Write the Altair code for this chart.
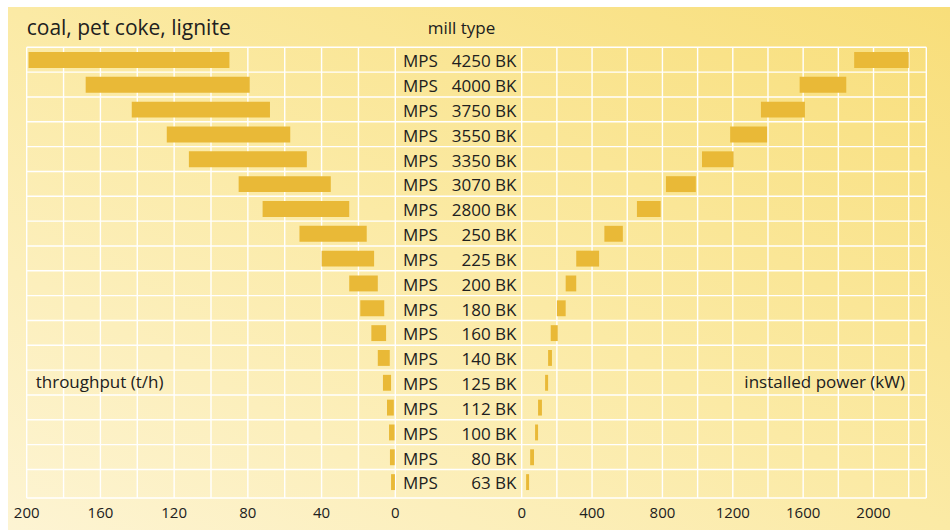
import altair as alt
import pandas as pd

# MPS ... BK vertical roller mills: throughput and installed drive power ranges
mill_sizes = ["4250", "4000", "3750", "3550", "3350", "3070", "2800",
              "250", "225", "200", "180", "160", "140", "125", "112", "100", "80", "63"]
throughput_low = [90, 79, 68, 57, 48, 35, 25, 15.5, 11.5, 9.5, 6, 5, 3, 2.3, 0.8, 0.4, 0.3, 0.2]
throughput_high = [199, 168, 143, 124, 112, 85, 72, 52, 40, 25, 19, 13, 9.5, 6.7, 4.5, 3.4, 2.9, 2.3]
power_low = [1890, 1580, 1360, 1185, 1025, 820, 655, 470, 310, 250, 200, 165, 150, 133, 93, 76, 48, 25]
power_high = [2200, 1845, 1610, 1395, 1205, 990, 790, 575, 440, 310, 250, 205, 172, 150, 115, 93, 70, 42]

throughput_ticks = [200, 160, 120, 80, 40, 0]
throughput_grid = [0, 20, 40, 60, 80, 100, 120, 140, 160, 180, 200]
power_ticks = [0, 400, 800, 1200, 1600, 2000]
power_grid = [0, 200, 400, 600, 800, 1000, 1200, 1400, 1600, 1800, 2000, 2200, 2300]

# ---- layout -------------------------------------------------------------
W, H = 942, 523
FONT = "Open Sans"
INK = "#202020"
BAR = "#E9B937"
GRID = "#FFFFFF"
ROWS_END = 18.15

left_scale = alt.Scale(domain=[0, 200], range=[387.3, 18.7], nice=False, zero=False)
right_scale = alt.Scale(domain=[0, 2300], range=[513.7, 918.3], nice=False, zero=False)
row_scale = alt.Scale(domain=[0, ROWS_END], range=[40.3, 491], nice=False, zero=False)

mills = pd.DataFrame({
    "row": list(range(len(mill_sizes))),
    "size": mill_sizes,
    "t_lo": throughput_low,
    "t_hi": throughput_high,
    "p_lo": power_low,
    "p_hi": power_high,
})
mills["label"] = mills["size"] + " BK"

row_edges = pd.DataFrame({"edge": list(range(len(mill_sizes))) + [ROWS_END]})

# background panel with a soft diagonal gradient
bg = alt.Chart(pd.DataFrame({"k": [0]})).mark_rect(
    color=alt.LinearGradient(
        gradient="linear",
        stops=[
            alt.GradientStop(offset=0, color="#FDF4D3"),
            alt.GradientStop(offset=0.5, color="#FBEAA5"),
            alt.GradientStop(offset=1, color="#F8DE7A"),
        ],
        x1=0, y1=1, x2=1, y2=0,
    )
).encode(x=alt.value(0), x2=alt.value(W), y=alt.value(0), y2=alt.value(H))

# horizontal row separators spanning both panels and the label column
h_grid = alt.Chart(row_edges).mark_rule(color=GRID, strokeWidth=1.4).encode(
    y=alt.Y("edge:Q", scale=row_scale, axis=None),
    x=alt.value(18.7),
    x2=alt.value(918.3),
)

v_grid_left = alt.Chart(pd.DataFrame({"v": throughput_grid})).mark_rule(
    color=GRID, strokeWidth=1.4
).encode(
    x=alt.X("v:Q", scale=left_scale, axis=None),
    y=alt.Y(datum=0, scale=row_scale, axis=None),
    y2=alt.Y2(datum=ROWS_END),
)

v_grid_right = alt.Chart(pd.DataFrame({"v": power_grid})).mark_rule(
    color=GRID, strokeWidth=1.4
).encode(
    x=alt.X("v:Q", scale=right_scale, axis=None),
    y=alt.Y(datum=0, scale=row_scale, axis=None),
    y2=alt.Y2(datum=ROWS_END),
)

base = alt.Chart(mills).transform_calculate(
    top="datum.row + 0.19", bottom="datum.row + 0.83", mid="datum.row + 0.5"
)

bars_left = base.mark_rect(color=BAR).encode(
    x=alt.X("t_lo:Q", scale=left_scale, axis=None),
    x2="t_hi:Q",
    y=alt.Y("top:Q", scale=row_scale, axis=None),
    y2="bottom:Q",
)

bars_right = base.mark_rect(color=BAR).encode(
    x=alt.X("p_lo:Q", scale=right_scale, axis=None),
    x2="p_hi:Q",
    y=alt.Y("top:Q", scale=row_scale, axis=None),
    y2="bottom:Q",
)

mps_text = base.mark_text(
    align="left", baseline="middle", font=FONT, fontSize=17, color=INK, dy=2.5
).encode(
    x=alt.value(395),
    y=alt.Y("mid:Q", scale=row_scale, axis=None),
    text=alt.value("MPS"),
)

size_text = base.mark_text(
    align="right", baseline="middle", font=FONT, fontSize=17, color=INK, dy=2.5
).encode(
    x=alt.value(508.5),
    y=alt.Y("mid:Q", scale=row_scale, axis=None),
    text="label:N",
)

left_tick_labels = alt.Chart(pd.DataFrame({"v": throughput_ticks})).mark_text(
    align="center", baseline="alphabetic", font=FONT, fontSize=15, color=INK
).encode(
    x=alt.X("v:Q", scale=left_scale, axis=None),
    y=alt.value(511),
    text=alt.Text("v:Q", format="d"),
)

right_tick_labels = alt.Chart(pd.DataFrame({"v": power_ticks})).mark_text(
    align="center", baseline="alphabetic", font=FONT, fontSize=15, color=INK
).encode(
    x=alt.X("v:Q", scale=right_scale, axis=None),
    y=alt.value(511),
    text=alt.Text("v:Q", format="d"),
)

one = pd.DataFrame({"k": [0]})

title_left = alt.Chart(one).mark_text(
    align="left", baseline="alphabetic", font=FONT, fontSize=21, color=INK
).encode(x=alt.value(18.7), y=alt.value(28), text=alt.value("coal, pet coke, lignite"))

title_mid = alt.Chart(one).mark_text(
    align="center", baseline="alphabetic", font=FONT, fontSize=17, color=INK
).encode(x=alt.value(453.5), y=alt.value(27), text=alt.value("mill type"))

label_left = alt.Chart(one).mark_text(
    align="left", baseline="middle", font=FONT, fontSize=17, color=INK
).encode(
    x=alt.value(27.7),
    y=alt.Y(datum=13.5, scale=row_scale, axis=None),
    text=alt.value("throughput (t/h)"),
)

label_right = alt.Chart(one).mark_text(
    align="right", baseline="middle", font=FONT, fontSize=17, color=INK
).encode(
    x=alt.value(897),
    y=alt.Y(datum=13.5, scale=row_scale, axis=None),
    text=alt.value("installed power (kW)"),
)

chart = alt.layer(
    bg, h_grid, v_grid_left, v_grid_right, bars_left, bars_right,
    mps_text, size_text, left_tick_labels, right_tick_labels,
    title_left, title_mid, label_left, label_right,
).resolve_scale(
    x="independent"
).properties(
    width=W,
    height=H,
    padding={"left": 8, "top": 7, "right": 0, "bottom": 0},
    autosize=alt.AutoSizeParams(type="none"),
    background="white",
).configure_view(stroke=None)

chart.save("out.html", embed_options={"renderer": "svg", "actions": False})
